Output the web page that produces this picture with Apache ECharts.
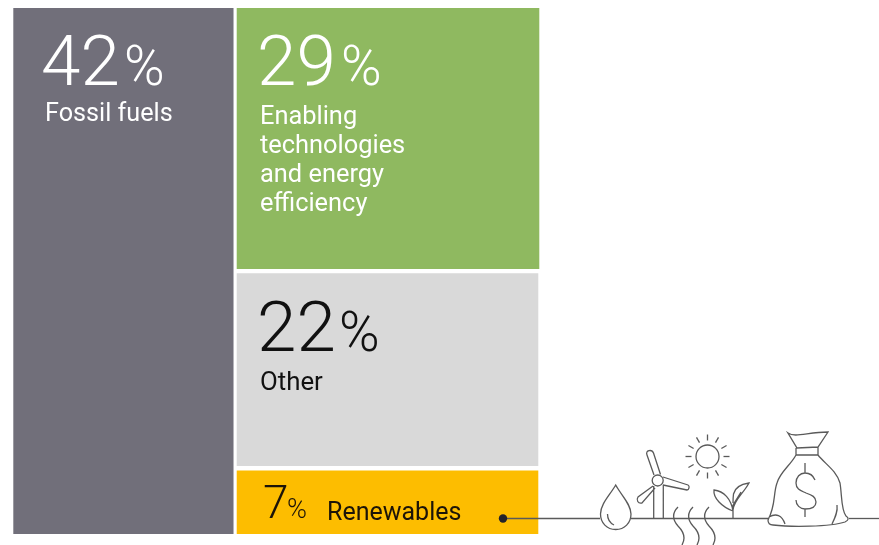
<!DOCTYPE html>
<html><head><meta charset="utf-8">
<style>html,body{margin:0;padding:0;background:#fff}#c{width:879px;height:545px}</style>
<script src="https://cdn.jsdelivr.net/npm/echarts@6/dist/echarts.min.js"></script>
</head><body><div id="c"></div>
<script>
const categories = ['Fossil fuels', 'Enabling technologies and energy efficiency', 'Other', 'Renewables'];
const values = [42, 29, 22, 7];

const labelLines = [['Fossil fuels'], ['Enabling', 'technologies', 'and energy', 'efficiency'], ['Other'], ['Renewables']];
const fills = ['#716f7a', '#8fb960', '#d9d9d9', '#fdbd00'];
const textColors = ['#ffffff', '#ffffff', '#111111', '#1c1408'];
const insets = [[0,0,0.7,0],[2.5,0,0,2],[2.5,2.3,1,4.5],[2.5,0,1,0]];

const total = values.reduce((a, b) => a + b, 0);
const rest = total - values[0];
let run = 0;
const cells = values.map((v, i) => {
  if (i === 0) return [0, v, 0, 100, i];
  const y0 = run / rest * 100; run += v;
  return [values[0], 100, y0, run / rest * 100, i];
});

const numStyle = [
  {nx:41, nb:84, ns:71, px:124, ps:55, lx:45, lb:121, ls:25.2},
  {nx:257, nb:84, ns:71, px:341, ps:55, lx:260, lb:124, ls:25.4},
  {nx:257, nb:350, ns:71, px:339, ps:55, lx:260, lb:390, ls:25.8},
  {nx:263, nb:518, ns:46, px:287, ps:27, lx:327, lb:520, ls:25}
];
const lineGap = 29;
const topFromBaseline = (b, s) => b - 0.74 * s;

function renderItem(params, api) {
  const i = api.value(4);
  const a = api.coord([api.value(0), api.value(2)]);
  const b = api.coord([api.value(1), api.value(3)]);
  const ins = insets[i], st = numStyle[i], col = textColors[i];
  const kids = [{
    type: 'rect',
    shape: {x: a[0] + ins[0], y: a[1] + ins[1], width: b[0] - a[0] - ins[0] - ins[2], height: b[1] - a[1] - ins[1] - ins[3]},
    style: {fill: fills[i]}
  }, {
    type: 'text',
    style: {x: st.nx, y: topFromBaseline(st.nb, st.ns), text: String(values[i]), fill: col, font: '300 ' + st.ns + 'px Roboto'}
  }, {
    type: 'text',
    style: {x: st.px, y: topFromBaseline(st.nb, st.ps), text: '%', fill: col, font: '300 ' + st.ps + 'px Roboto'}
  }];
  labelLines[i].forEach((t, k) => kids.push({
    type: 'text',
    style: {x: st.lx, y: topFromBaseline(st.lb + k * lineGap, st.ls), text: t, fill: col, font: st.ls + 'px Roboto'}
  }));
  return {type: 'group', children: kids};
}

const ink = {stroke: '#5a5a5a', fill: null, lineWidth: 1.3};
const sunRays = [];
for (let k = 0; k < 12; k++) {
  const t = k * Math.PI / 6, c = Math.cos(t), s = Math.sin(t);
  sunRays.push({type: 'line', shape: {x1: 707.5 + 16 * c, y1: 456.5 + 16 * s, x2: 707.5 + 22 * c, y2: 456.5 + 22 * s}, style: ink});
}
const iconPaths = [
  // drop
  'M615.7 485 C610 495 600.5 504 600.5 514 C600.5 523 607 529.5 615.7 529.5 C624.5 529.5 631 523 631 514 C631 504 621 495 615.7 485 Z M607.5 514 C607.5 520 610 523 614 525',
  // turbine
  'M653.7 518 L653.7 486 M663.3 518 L663.3 485 M654 475 L647 455 C645 450 652 449 653.5 453 L660.5 474.5 M663 477 L688 485 C690 486 689 490 687 490 L663 485 M653 486 L638 497 C636 500 638 504 642 503 L655 488',
  // steam
  'M678 507 C672 513 672 519 678 526 C684 532 686 538 682 545 M693 507 C687 513 687 519 693 526 C699 532 701 538 697 545 M709 507 C703 513 703 519 709 526 C715 532 717 538 713 545',
  // plant
  'M733 518 L733 505 M733 510 C734 500 743 494 749 483 C742 484 735 487 733.5 494 C733 498 733 500 733 503 M733 511 C731 499 724 491 714 490 C713 498 722 507 733 511 M733 505 L741 492',
  // money bag
  'M788 433 C795 438 808 432 828 432 L818 447 L797 448 Z M796 448 L796 455 L818 455 L818 447 M796 455 C790 466 780 472 777 483 C773 494 776 505 768 520 C768 523 769 525 773 525 C790 527 830 527 845 522 C849 520 849 518 846 516 C841 510 842 495 840 483 C836 470 825 464 818 455 M769 517 C776 513 782 515 785 524 M837 505 C838 512 835 518 832 524',
  // dollar
  'M815 480 C813 475 809 473 805 473 C800 473 796 477 796 483 C796 490 802 491 806 493 C812 495 816 497 816 502 C816 507 811 509 805 509 C800 509 796 505 796 500 M805 463 L805 473 M805 509 L805 517'
];
function renderIcons() {
  const kids = [
    {type: 'line', shape: {x1: 503, y1: 518.5, x2: 600, y2: 518.5}, style: ink},
    {type: 'line', shape: {x1: 631, y1: 518.5, x2: 769, y2: 518.5}, style: ink},
    {type: 'line', shape: {x1: 849, y1: 518.5, x2: 879, y2: 518.5}, style: ink},
    {type: 'circle', shape: {cx: 503, cy: 518.5, r: 4.2}, style: {fill: '#23232b'}},
    {type: 'circle', shape: {cx: 657.7, cy: 480.5, r: 5.5}, style: ink},
    {type: 'circle', shape: {cx: 707.5, cy: 456.5, r: 11.5}, style: ink}
  ].concat(sunRays, iconPaths.map(d => ({type: 'path', shape: {pathData: d}, style: ink})));
  return {type: 'group', children: kids};
}

const chart = echarts.init(document.getElementById('c'), null, {renderer: 'canvas'});
chart.setOption({
  animation: false,
  backgroundColor: '#ffffff',
  grid: {left: 13.3, top: 8, width: 526, height: 526},
  xAxis: {type: 'value', min: 0, max: 100, show: false},
  yAxis: {type: 'value', min: 0, max: 100, inverse: true, show: false},
  tooltip: {show: false},
  series: [{
    type: 'custom',
    renderItem,
    clip: false,
    silent: true,
    encode: {x: [0, 1], y: [2, 3]},
    data: cells,
    z: 1
  }, {
    type: 'custom',
    renderItem: renderIcons,
    clip: false,
    silent: true,
    data: [[0, 0]],
    z: 5
  }]
});
</script></body></html>
